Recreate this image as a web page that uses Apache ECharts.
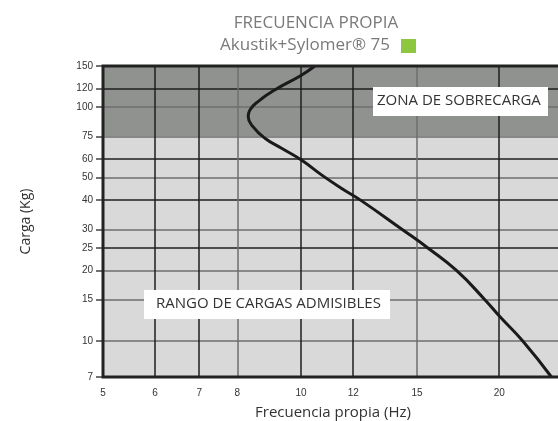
<!DOCTYPE html>
<html>
<head>
<meta charset="utf-8">
<script src="https://cdn.jsdelivr.net/npm/echarts@6/dist/echarts.min.js"></script>
<style>
  html, body { margin: 0; padding: 0; background: #fff; }
  #chart { width: 558px; height: 421px; }
</style>
</head>
<body>
<div id="chart"></div>
<script>
// ticks of both axes (log scale)
const xTicks = [5, 6, 7, 8, 10, 12, 15, 20, 25]
const yTicks = [7, 10, 15, 20, 25, 30, 40, 50, 60, 75, 100, 120, 150]

// curve: frecuencia (Hz) vs carga (Kg)
const freq = [10.49, 10.01, 9.12, 8.6, 8.36, 8.31, 8.45, 8.81, 9.34, 10.01, 10.74, 11.51, 12.31, 14.28, 15.6, 17.22, 19.02, 20.04, 21.7, 24.01]
const carga = [150, 137, 118.5, 105.6, 97.3, 91.1, 82.5, 73.6, 66.7, 59.4, 51.3, 45, 40, 29.8, 24.9, 20, 15, 12.7, 10, 7]

// zones
const limiteSobrecarga = 75

const lg = Math.log10
const black = '#1e1e1e'
const gray = '#6e6e6e'

const chart = echarts.init(document.getElementById('chart'))

const options = {
  animation: false,
  title: [
    {
      text: 'FRECUENCIA PROPIA',
      left: 311,
      textAlign: 'center',
      top: 10,
      textStyle: { fontFamily: 'Open Sans', fontWeight: 'normal', fontSize: 17, color: '#7a7a7a' }
    },
    {
      text: 'Akustik+Sylomer® 75',
      left: 300,
      textAlign: 'center',
      top: 32,
      textStyle: { fontFamily: 'Open Sans', fontWeight: 'normal', fontSize: 17, color: '#7a7a7a' }
    }
  ],
  graphic: [
    { type: 'rect', z: 100, shape: { x: 401, y: 39, width: 15, height: 14 }, style: { fill: '#8dc63f' } },
    // etiquetas de las zonas
    { type: 'rect', z: 100, shape: { x: 373, y: 87, width: 175, height: 29 }, style: { fill: '#fff' } },
    { type: 'text', z: 101, x: 377, y: 93, style: { text: 'ZONA DE SOBRECARGA', fill: '#333', fontSize: 15, fontFamily: 'Open Sans' } },
    { type: 'rect', z: 100, shape: { x: 144, y: 290, width: 246, height: 29 }, style: { fill: '#fff' } },
    { type: 'text', z: 101, x: 156, y: 296, style: { text: 'RANGO DE CARGAS ADMISIBLES', fill: '#333', fontSize: 15, fontFamily: 'Open Sans' } }
  ],
  grid: {
    left: 103, right: -5, top: 66, bottom: 44,
    outerBoundsMode: 'none',
    show: true, z: 5,
    backgroundColor: 'transparent',
    borderColor: '#222', borderWidth: 3
  },
  xAxis: {
    type: 'value',
    min: lg(5), max: lg(25),
    z: 2,
    name: 'Frecuencia propia (Hz)',
    nameLocation: 'middle',
    nameGap: 28,
    nameTextStyle: { fontFamily: 'Open Sans', fontSize: 15, color: '#333' },
    axisLine: { show: false },
    axisTick: { show: false, customValues: xTicks.map(lg) },
    axisLabel: {
      customValues: xTicks.map(lg),
      formatter: (v) => String(Math.round(Math.pow(10, v))),
      fontFamily: 'Liberation Sans', fontSize: 10, color: '#333', margin: 11
    },
    splitLine: {
      show: true,
      lineStyle: { width: 1.5, color: [black, black, black, gray, black, black, gray, black, black] }
    }
  },
  yAxis: {
    type: 'value',
    min: lg(7), max: lg(150),
    z: 2,
    name: 'Carga (Kg)',
    nameLocation: 'middle',
    nameGap: 70,
    nameTextStyle: { fontFamily: 'Open Sans', fontSize: 14, color: '#333' },
    axisLine: { show: false },
    axisTick: { show: true, length: 7, customValues: yTicks.map(lg), lineStyle: { color: '#444', width: 1.5 } },
    axisLabel: {
      customValues: yTicks.map(lg),
      formatter: (v) => String(Math.round(Math.pow(10, v))),
      fontFamily: 'Liberation Sans', fontSize: 10, color: '#333', margin: 10
    },
    splitLine: {
      show: true,
      lineStyle: { width: 1.5, color: [black, gray, gray, gray, black, gray, black, gray, black, gray, gray, black, black] }
    }
  },
  series: [
    {
      type: 'line',
      z: 1,
      data: [],
      markArea: {
        silent: true,
        data: [
          [{ yAxis: lg(7), itemStyle: { color: '#d9d9d9' } }, { yAxis: lg(limiteSobrecarga) }],
          [{ yAxis: lg(limiteSobrecarga), itemStyle: { color: '#8f928f' } }, { yAxis: lg(150) }]
        ]
      }
    },
    {
      type: 'line',
      z: 3,
      smooth: 0.5,
      showSymbol: false,
      lineStyle: { color: '#1a1a1a', width: 3 },
      data: freq.map((f, i) => [lg(f), lg(carga[i])])
    }
  ]
}

chart.setOption(options)
</script>
</body>
</html>
